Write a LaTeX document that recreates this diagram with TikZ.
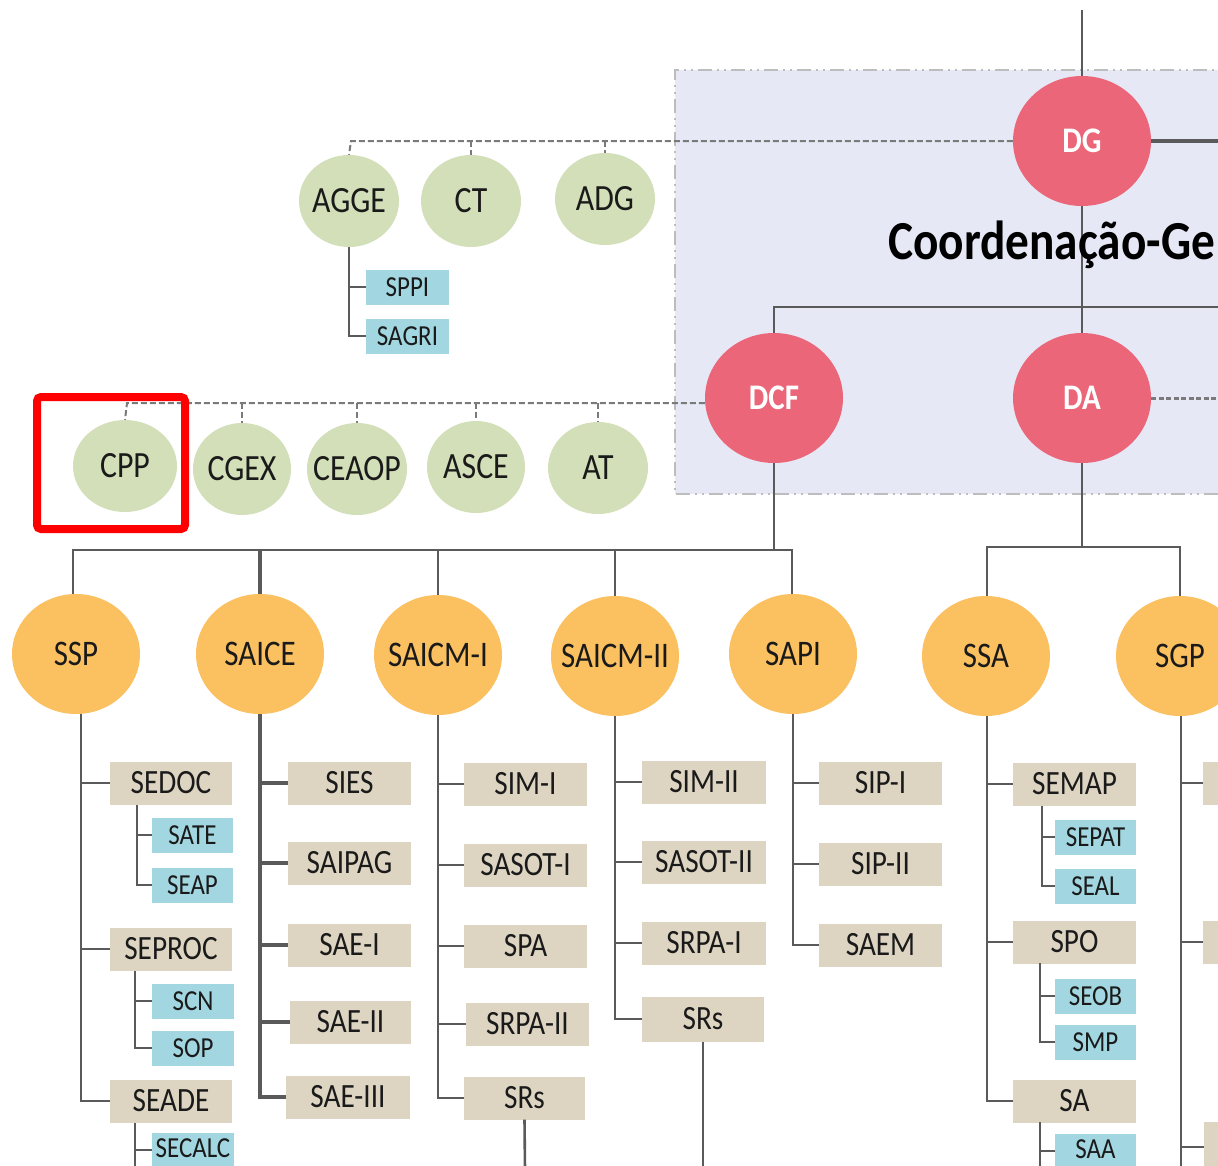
\documentclass[tikz,border=0pt]{standalone}
\usepackage{fontspec}
\setmainfont[FakeStretch=0.86]{Carlito}
\usetikzlibrary{shapes.geometric}
\definecolor{cred}{HTML}{EB6678}
\definecolor{cgreen}{HTML}{D2DFB8}
\definecolor{corange}{HTML}{FBC060}
\definecolor{ctan}{HTML}{DDD5C2}
\definecolor{ccyan}{HTML}{A2D6E0}
\definecolor{clav}{HTML}{E6E8F5}
\definecolor{cline}{HTML}{5A5A5A}
\definecolor{cdash}{HTML}{7A7A7A}
\definecolor{cborder}{HTML}{BDBDBD}
\definecolor{ctext}{HTML}{1A1A1A}
\newcommand\myfs[1]{\fontsize{#1}{#1}\selectfont}
\newcommand\zw[1]{\makebox[0pt][c]{#1}}
\tikzset{
  rcirc/.style={ellipse, fill=cred, inner sep=0pt, minimum width=138, minimum height=130, text=white, font=\bfseries\myfs{36}},
  gcirc/.style={ellipse, fill=cgreen, inner sep=0pt, minimum width=100, minimum height=92, text=ctext, font=\myfs{37}},
  ocirc/.style={ellipse, fill=corange, inner sep=0pt, minimum width=128, minimum height=120, text=ctext, font=\myfs{36}},
  tbox/.style={rectangle, fill=ctan, inner sep=0pt, minimum width=123, minimum height=43, text=ctext, font=\myfs{34}},
  cbox/.style={rectangle, fill=ccyan, inner sep=0pt, minimum width=81, minimum height=35, text=ctext, font=\myfs{29}},
  conn/.style={draw=cline, line width=2.6pt},
  dconn/.style={draw=cdash, line width=2pt, dash pattern=on 6pt off 3pt},
}
\begin{document}
\begin{tikzpicture}[x=1pt,y=-1pt]
\useasboundingbox (0,0) rectangle (1218,1165);
\clip (0,0) rectangle (1218,1165);
% shaded region
\fill[clav] (675,70) rectangle (1240,494);
\draw[cborder, line width=2.5pt, dash pattern=on 14pt off 5pt on 2pt off 5pt on 2pt off 5pt] (1240,70) -- (675,70) -- (675,494) -- (1240,494);

% red nodes
\node[rcirc] (DG) at (1082,141) {\zw{DG}};
\node[rcirc] (DCF) at (774,398) {\zw{DCF}};
\node[rcirc] (DA) at (1082,398) {\zw{DA}};

% green nodes
\node[gcirc] (AGGE) at (349,201) {\zw{AGGE}};
\node[gcirc] (CT) at (471,201) {\zw{CT}};
\node[gcirc] (ADG) at (605,199) {\zw{ADG}};
\node[gcirc, minimum width=104] (CPP) at (125,466) {\zw{CPP}};
\node[gcirc, minimum width=98] (CGEX) at (242,469) {\zw{CGEX}};
\node[gcirc] (CEAOP) at (357,469) {\zw{CEAOP}};
\node[gcirc, minimum width=98] (ASCE) at (476,467) {\zw{ASCE}};
\node[gcirc] (AT) at (598,468) {\zw{AT}};

\node[cbox, minimum width=83] (SPPI) at (407.5,287) {SPPI};
\node[cbox, minimum width=83] (SAGRI) at (407.5,336) {SAGRI};

% orange nodes
\node[ocirc] (SSP) at (76,654) {\zw{SSP}};
\node[ocirc] (SAICE) at (260,654) {\zw{SAICE}};
\node[ocirc] (SAICM1) at (438,655) {\zw{SAICM-I}};
\node[ocirc] (SAICM2) at (615,656) {\zw{SAICM-II}};
\node[ocirc] (SAPI) at (793,654) {\zw{SAPI}};
\node[ocirc] (SSA) at (986,656) {\zw{SSA}};
\node[ocirc] (SGP) at (1180,656) {\zw{SGP}};

% SSP column
\node[tbox, minimum width=122] (SEDOC) at (171,783) {SEDOC};
\node[tbox, minimum width=122] (SEPROC) at (171,949) {SEPROC};
\node[tbox, minimum width=122] (SEADE) at (171,1101) {SEADE};
\node[cbox] (SATE) at (192.5,835) {SATE};
\node[cbox] (SEAP) at (192.5,885) {SEAP};
\node[cbox, minimum width=82] (SCN) at (193,1001) {SCN};
\node[cbox, minimum width=82] (SOP) at (193,1048) {SOP};
\node[cbox, minimum width=82] (SECALC) at (193,1150) {\raisebox{3pt}{SECALC}};

% SAICE column
\node[tbox] (SIES) at (349.5,783) {SIES};
\node[tbox] (SAIPAG) at (349.5,863) {SAIPAG};
\node[tbox] (SAE1) at (349.5,945) {SAE-I};
\node[tbox, minimum width=121] (SAE2) at (350.5,1022) {SAE-II};
\node[tbox, minimum width=124] (SAE3) at (348,1097) {SAE-III};

% SAICM-I column
\node[tbox] (SIM1) at (525.5,784) {SIM-I};
\node[tbox] (SASOT1) at (525.5,865) {SASOT-I};
\node[tbox] (SPA) at (525.5,946) {SPA};
\node[tbox] (SRPA2) at (527.5,1024) {SRPA-II};
\node[tbox, minimum width=121] (SRS1) at (524.5,1098) {SRs};

% SAICM-II column
\node[tbox, minimum width=124] (SIM2) at (704,782) {SIM-II};
\node[tbox, minimum width=124] (SASOT2) at (704,862) {SASOT-II};
\node[tbox, minimum width=124] (SRPA1) at (704,943) {SRPA-I};
\node[tbox, minimum width=122, minimum height=45] (SRS2) at (703,1019) {SRs};

% SAPI column
\node[tbox] (SIP1) at (880.5,783) {SIP-I};
\node[tbox] (SIP2) at (880.5,864) {SIP-II};
\node[tbox] (SAEM) at (880.5,945) {SAEM};

% SSA column
\node[tbox] (SEMAP) at (1074.5,784) {SEMAP};
\node[tbox] (SPO) at (1074.5,942) {SPO};
\node[tbox] (SA) at (1074.5,1101) {SA};
\node[cbox] (SEPAT) at (1095.5,837) {SEPAT};
\node[cbox] (SEAL) at (1095.5,886) {SEAL};
\node[cbox] (SEOB) at (1095.5,996) {SEOB};
\node[cbox] (SMP) at (1095.5,1042) {SMP};
\node[cbox] (SAA) at (1095.5,1151) {\raisebox{3pt}{SAA}};

% SGP column (cut by the edge)
\node[tbox] (SGP1) at (1264.5,783) {};
\node[tbox] (SGP2) at (1264.5,942) {};
\node[tbox, minimum height=50] (SGP3) at (1265.5,1147) {};

% coordinates for the connectors
\coordinate (top) at (1082,10);
\coordinate (DGright) at (1230,141);
\coordinate (DAright) at (1230,398);
\coordinate (bus1R) at (1230,307);
\coordinate (bus1) at (774,307);
\coordinate (dashA) at (351,141);
\coordinate (dashB) at (127,403);
\coordinate (busO) at (73,550);
\coordinate (busOR) at (792,550);
\coordinate (busA) at (987,547);
\coordinate (busAR) at (1180,547);

% solid connectors among directors
\draw[conn] (top) -- (DG.north);
\draw[conn, line width=3.4pt] (DG.east) -- (DGright);
\draw[conn] (DG.south) -- (DA.north);
\draw[conn] (bus1R) -- (bus1) -- (DCF.north);
\draw[draw=cdash, line width=3pt, dash pattern=on 5pt off 2.5pt] (DA.east) -- (DAright);

% dashed advisory lines
\draw[dconn] (DG.west) -- (dashA) -- (AGGE.north);
\draw[dconn] (dashA -| CT.north) -- (CT.north);
\draw[dconn] (dashA -| ADG.north) -- (ADG.north);
\draw[dconn] ([yshift=-5pt]DCF.west) -- (dashB) -- (CPP.north);
\draw[dconn] (dashB -| CGEX.north) -- (CGEX.north);
\draw[dconn] (dashB -| CEAOP.north) -- (CEAOP.north);
\draw[dconn] (dashB -| ASCE.north) -- (ASCE.north);
\draw[dconn] (dashB -| AT.north) -- (AT.north);

% AGGE sub units
\draw[conn, line width=2pt] (AGGE.south) |- (SPPI.west);
\draw[conn, line width=2pt] (AGGE.south) |- (SAGRI.west);

% DCF bus
\draw[conn] (DCF.south) -- (DCF.south |- busO);
\draw[conn] (SSP.north -| busO) -- (busO) -- (busOR) -- (SAPI.north -| busOR);
\draw[conn, line width=3.4pt] (SAICE.north) -- (SAICE.north |- busO);
\draw[conn] (SAICM1.north) -- (SAICM1.north |- busO);
\draw[conn] (SAICM2.north) -- (SAICM2.north |- busO);

% DA bus
\draw[conn] (DA.south) -- (DA.south |- busA);
\draw[conn] (SSA.north -| busA) -- (busA) -- (busAR) -- (SGP.north -| busAR);

% SSP subtree
\coordinate (tSSP) at (81,714);
\draw[conn, line width=2.2pt] (tSSP) |- (SEDOC.west);
\draw[conn, line width=2.2pt] (tSSP) |- (SEPROC.west);
\draw[conn, line width=2.2pt] (tSSP) |- (SEADE.west);
\coordinate (tSEDOC) at (137,805);
\draw[conn, line width=2.2pt] (tSEDOC) |- (SATE.west);
\draw[conn, line width=2.2pt] (tSEDOC) |- (SEAP.west);
\coordinate (tSEPROC) at (135,971);
\draw[conn, line width=2.2pt] (tSEPROC) |- (SCN.west);
\draw[conn, line width=2.2pt] (tSEPROC) |- (SOP.west);
\coordinate (tSEADE) at (135,1123);
\coordinate (bSEADE) at (135,1170);
\draw[conn, line width=2.2pt] (tSEADE) |- (SECALC.west);
\draw[conn, line width=2.2pt] (tSEADE) -- (bSEADE);

% SAICE subtree
\coordinate (tSAICE) at (260,714);
\draw[conn, line width=3.4pt] (tSAICE) |- (SIES.west);
\draw[conn, line width=3.4pt] (tSAICE) |- (SAIPAG.west);
\draw[conn, line width=3.4pt] (tSAICE) |- (SAE1.west);
\draw[conn, line width=3.4pt] (tSAICE) |- (SAE2.west);
\draw[conn, line width=3.4pt] (tSAICE) |- (SAE3.west);

% SAICM-I subtree
\coordinate (tSAICM1) at (438,715);
\draw[conn] (tSAICM1) |- (SIM1.west);
\draw[conn] (tSAICM1) |- (SASOT1.west);
\draw[conn] (tSAICM1) |- (SPA.west);
\draw[conn] (tSAICM1) |- (SRPA2.west);
\draw[conn] (tSAICM1) |- (SRS1.west);
\coordinate (bSRS1) at (525,1170);
\draw[conn] (SRS1.south) -- (bSRS1);

% SAICM-II subtree
\coordinate (tSAICM2) at (615,716);
\draw[conn] (tSAICM2) |- (SIM2.west);
\draw[conn] (tSAICM2) |- (SASOT2.west);
\draw[conn] (tSAICM2) |- (SRPA1.west);
\draw[conn] (tSAICM2) |- (SRS2.west);
\coordinate (bSRS2) at (703,1170);
\draw[conn] (SRS2.south) -- (bSRS2);

% SAPI subtree
\coordinate (tSAPI) at (793,714);
\draw[conn, line width=2.2pt] (tSAPI) |- (SIP1.west);
\draw[conn, line width=2.2pt] (tSAPI) |- (SIP2.west);
\draw[conn, line width=2.2pt] (tSAPI) |- (SAEM.west);

% SSA subtree
\coordinate (tSSA) at (987,716);
\draw[conn] (tSSA) |- (SEMAP.west);
\draw[conn] (tSSA) |- (SPO.west);
\draw[conn] (tSSA) |- (SA.west);
\coordinate (tSEMAP) at (1042,806);
\draw[conn, line width=2.2pt] (tSEMAP) |- (SEPAT.west);
\draw[conn, line width=2.2pt] (tSEMAP) |- (SEAL.west);
\coordinate (tSPO) at (1040,963);
\draw[conn, line width=2.2pt] (tSPO) |- (SEOB.west);
\draw[conn, line width=2.2pt] (tSPO) |- (SMP.west);
\coordinate (tSA) at (1040,1122);
\coordinate (bSA) at (1040,1170);
\draw[conn, line width=2.2pt] (tSA) |- (SAA.west);
\draw[conn, line width=2.2pt] (tSA) -- (bSA);

% SGP subtree
\coordinate (tSGP) at (1181,716);
\coordinate (bSGP) at (1181,1170);
\draw[conn] (tSGP) -- (bSGP);
\draw[conn] (tSGP) |- (SGP1.west);
\draw[conn] (tSGP) |- (SGP2.west);
\draw[conn] (tSGP) |- (SGP3.west);

% title
\node[anchor=base west, inner sep=0pt, font=\bfseries\myfs{55}, text=black] (title) at (888,259) {Coordenação-Ge};

% highlight frame
\draw[red, line width=8pt, rounded corners=4pt] (37,397) rectangle (185,529);
\end{tikzpicture}
\end{document}
